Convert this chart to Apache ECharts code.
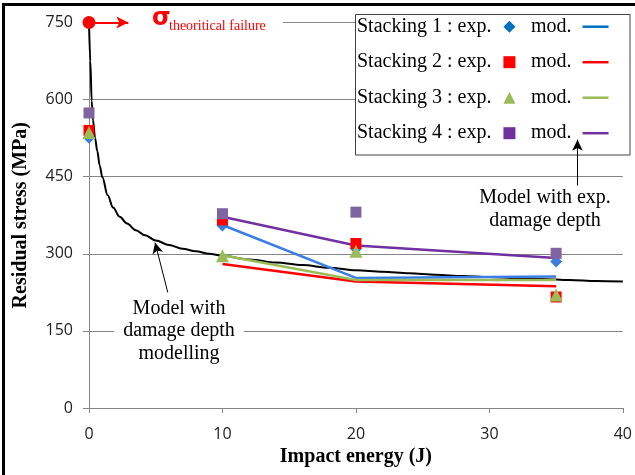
<!DOCTYPE html>
<html>
<head>
<meta charset="utf-8">
<script src="https://cdn.jsdelivr.net/npm/echarts@6/dist/echarts.min.js"></script>
<style>
  html, body { margin: 0; padding: 0; background: #fff; }
  #chart { width: 635px; height: 475px; }
</style>
</head>
<body>
<div id="chart"></div>
<script>
// ---- data ----
const expEnergy = [0, 10, 20, 35];
const exp1 = [526, 355, 310, 285];
const exp2 = [540, 366, 320, 216];
const exp3 = [536, 296, 305, 220];
const exp4 = [574, 378, 381, 301];

const modEnergy = [10, 20, 35];
const mod1 = [356, 253, 256];
const mod2 = [280, 246, 237];
const mod3 = [297, 249, 249];
const mod4 = [372, 316, 292];

const curveEnergy = [0, 0.1, 0.2, 0.3, 0.45, 0.62, 0.8, 1.0, 1.4, 1.8, 2.3, 2.85, 3.5, 4.2, 5, 6, 7, 8, 9, 10, 12, 14, 16, 18, 20, 22, 24, 26, 28, 30, 32, 34, 36, 38, 40];
const curveStress = [750, 675, 598, 560, 526, 500, 472, 449, 414, 390, 372, 359, 346, 336, 326, 317, 310, 305, 300, 296, 289, 283, 278, 273, 268, 265, 262, 259, 257, 255, 253, 251, 249, 247, 246];

const failurePoint = [0, 750];
const failureArrowEnd = [2.95, 750];
const curveArrow = [[5.9, 225], [4.95, 322]];
const expArrow = [[36.6, 433], [36.6, 522]];

const xTicks = { min: 0, max: 40, interval: 10 };
const yTicks = { min: 0, max: 750, interval: 150 };

const expNames = ['Stacking 1 : exp.', 'Stacking 2 : exp.', 'Stacking 3 : exp.', 'Stacking 4 : exp.'];
const modNames = ['Stacking 1 : mod.', 'Stacking 2 : mod.', 'Stacking 3 : mod.', 'Stacking 4 : mod.'];
const axisXName = 'Impact energy (J)';
const axisYName = 'Residual stress (MPa)';
const curveNote = 'Model with\ndamage depth\nmodelling';
const expNote = 'Model with exp.\ndamage depth';

// ---- styling ----
const serif = 'Liberation Serif';
const grayAxis = '#868686';
const expSymbols = ['diamond', 'rect', 'triangle', 'rect'];
const expSizes = [12, 11, 13, 11];
const expColors = ['#3a7ddc', '#ff0000', '#9bbb59', '#8064a2'];
const expLegendColors = ['#0070c0', '#ff0000', '#9bbb59', '#7030a0'];
const modColors = ['#3a7de6', '#ff0000', '#9bbb59', '#7030a0'];
const modLegendColors = ['#0070c0', '#ff0000', '#9bbb59', '#7030a0'];

const zip = (xs, ys) => xs.map((x, i) => [x, ys[i]]);
const expData = [exp1, exp2, exp3, exp4];
const modData = [mod1, mod2, mod3, mod4];

const series = [];
series.push({
  name: 'Model with damage depth modelling',
  type: 'line',
  data: zip(curveEnergy, curveStress),
  showSymbol: false,
  symbol: 'none',
  smooth: 0.35,
  smoothMonotone: 'x',
  lineStyle: { color: '#000', width: 2 },
  z: 2,
  silent: true,
  markLine: {
    silent: true,
    symbol: ['none', 'arrow'],
    symbolSize: [8, 11],
    label: { show: false },
    lineStyle: { color: '#000', width: 1, type: 'solid' },
    data: [[{ coord: curveArrow[0] }, { coord: curveArrow[1] }]]
  }
});
modData.forEach((d, i) => {
  const s = {
    name: modNames[i],
    type: 'line',
    data: zip(modEnergy, d),
    showSymbol: false,
    symbol: 'none',
    lineStyle: { color: modColors[i], width: 2.5 },
    itemStyle: { color: modColors[i] },
    z: 3,
    silent: true
  };
  if (i === 3) {
    s.markLine = {
      silent: true,
      symbol: ['none', 'arrow'],
      symbolSize: [8, 11],
      label: { show: false },
      lineStyle: { color: '#000', width: 1, type: 'solid' },
      data: [[{ coord: expArrow[0] }, { coord: expArrow[1] }]]
    };
  }
  series.push(s);
});
expData.forEach((d, i) => {
  series.push({
    name: expNames[i],
    type: 'scatter',
    data: zip(expEnergy, d),
    symbol: expSymbols[i],
    symbolSize: expSizes[i],
    itemStyle: { color: expColors[i], opacity: 1 },
    z: 4,
    silent: true
  });
});
series.push({
  name: 'theoritical failure',
  type: 'scatter',
  data: [failurePoint],
  symbol: 'circle',
  symbolSize: 13,
  itemStyle: { color: '#ff0000', opacity: 1 },
  z: 5,
  silent: true,
  markLine: {
    silent: true,
    symbol: ['none', 'arrow'],
    symbolSize: [9, 12],
    label: { show: false },
    lineStyle: { color: '#ff0000', width: 2, type: 'solid' },
    data: [[{ coord: failurePoint }, { coord: failureArrowEnd }]]
  }
});

const legendText = { fontFamily: serif, fontSize: 20, color: '#000', lineHeight: 22 };

const option = {
  animation: false,
  backgroundColor: '#fff',
  grid: { left: 89, right: 12, top: 22.5, bottom: 67, containLabel: false },
  title: [
    { text: 'σ', left: 152, top: 7, padding: 0, z: 6,
      textStyle: { fontFamily: 'DejaVu Sans', fontSize: 24, fontWeight: 'bold', color: '#ff0000', lineHeight: 24 } },
    { text: 'theoritical failure', left: 169, top: 19.5, padding: 0, z: 6,
      textStyle: { fontFamily: serif, fontSize: 14, fontWeight: 'normal', color: '#ff0000', lineHeight: 14 } },
    { text: curveNote, left: 170, top: 297, padding: [0, 9], z: 1, textAlign: 'center', backgroundColor: '#fff',
      textStyle: { fontFamily: serif, fontSize: 20, fontWeight: 'normal', color: '#000', lineHeight: 22.5 } },
    { text: expNote, left: 545, top: 186.5, padding: 0, z: 1, textAlign: 'center',
      textStyle: { fontFamily: serif, fontSize: 20, fontWeight: 'normal', color: '#000', lineHeight: 23 } }
  ],
  xAxis: {
    type: 'value',
    min: xTicks.min, max: xTicks.max, interval: xTicks.interval,
    name: axisXName,
    nameLocation: 'middle',
    nameGap: 38,
    nameTextStyle: { fontFamily: serif, fontSize: 20, fontWeight: 'bold', color: '#000' },
    axisLine: { show: true, lineStyle: { color: grayAxis, width: 1 } },
    axisTick: { show: true, length: 5, lineStyle: { color: grayAxis } },
    axisLabel: { margin: 18, fontFamily: 'Open Sans', fontSize: 16, color: '#222' },
    splitLine: { show: false }
  },
  yAxis: {
    type: 'value',
    min: yTicks.min, max: yTicks.max, interval: yTicks.interval,
    name: axisYName,
    nameLocation: 'middle',
    nameGap: 58,
    nameRotate: 90,
    nameTextStyle: { fontFamily: serif, fontSize: 20, fontWeight: 'bold', color: '#000' },
    axisLine: { show: true, lineStyle: { color: grayAxis, width: 1 } },
    axisTick: { show: true, length: 6, lineStyle: { color: grayAxis } },
    axisLabel: { margin: 16, fontFamily: 'Open Sans', fontSize: 16, color: '#222' },
    splitLine: { show: true, lineStyle: { color: grayAxis, width: 1 } }
  },
  legend: [
    {
      data: expNames.map((n, i) => ({ name: n, icon: expSymbols[i], itemStyle: { color: expLegendColors[i] } })),
      orient: 'vertical',
      align: 'right',
      left: 357,
      top: 15.7,
      padding: 0,
      itemGap: 13.5,
      itemWidth: 12,
      itemHeight: 12,
      selectedMode: false,
      textStyle: Object.assign({ padding: [0, 7, 0, 0] }, legendText),
      z: 10
    },
    {
      data: modNames.map((n, i) => ({ name: n, icon: 'rect', itemStyle: { color: modLegendColors[i] } })),
      formatter: () => 'mod.',
      orient: 'vertical',
      align: 'right',
      left: 531,
      top: 15.7,
      padding: 0,
      itemGap: 13.5,
      itemWidth: 26,
      itemHeight: 2.5,
      selectedMode: false,
      textStyle: Object.assign({ padding: [0, 6, 0, 0] }, legendText),
      z: 10
    }
  ],
  graphic: [
    // outer frame (left and top)
    { type: 'rect', shape: { x: 2, y: 3, width: 3, height: 472 }, style: { fill: '#000' }, z: 20, silent: true },
    { type: 'rect', shape: { x: 2, y: 3, width: 633, height: 3 }, style: { fill: '#000' }, z: 20, silent: true },
    // white mask behind the failure label
    { type: 'rect', shape: { x: 95, y: 19, width: 188, height: 7 }, style: { fill: '#fff' }, z: 1, silent: true },
    // legend frame
    { type: 'rect', shape: { x: 355.5, y: 14.5, width: 274.5, height: 140.5 }, style: { fill: '#fff', stroke: '#404040', lineWidth: 1 }, z: 1, silent: true }
  ],
  series: series
};

const chart = echarts.init(document.getElementById('chart'), null, { renderer: 'canvas' });
chart.setOption(option);
</script>
</body>
</html>
